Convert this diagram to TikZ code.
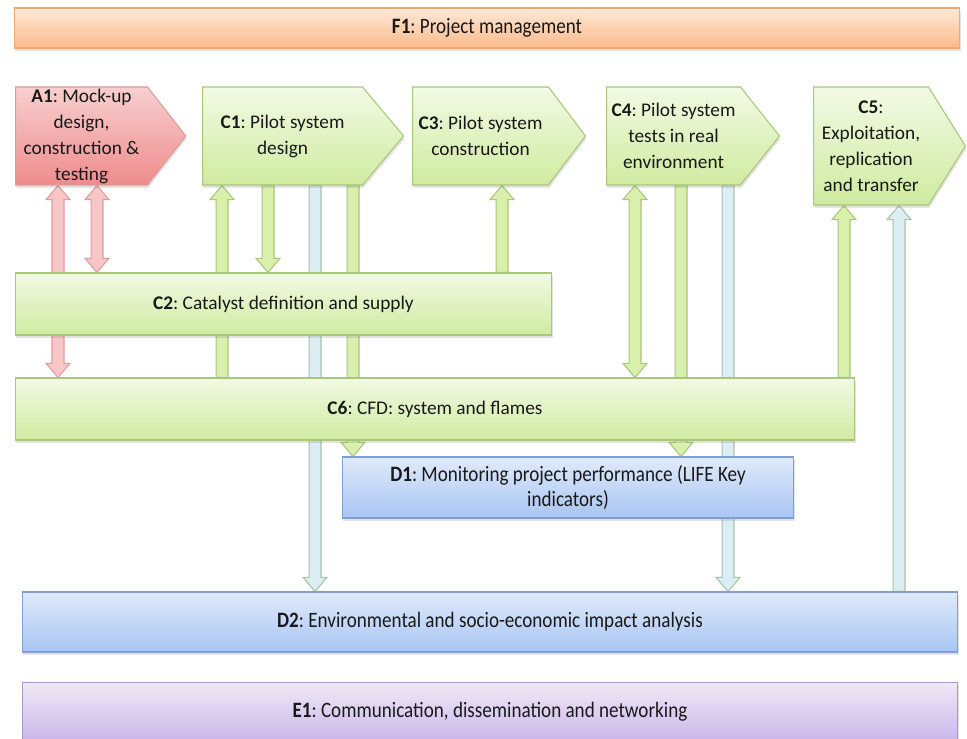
\documentclass[tikz,border=0pt]{standalone}
\usepackage{fontspec}
\setmainfont{Carlito}
\newfontfamily\narrowfont{Carlito}[FakeStretch=0.87]
\usetikzlibrary{positioning,calc,shapes.symbols,shadows,backgrounds}
\frenchspacing

\definecolor{grnTop}{HTML}{F2FAE4}
\definecolor{grnBot}{HTML}{CFEBA0}
\definecolor{grnLine}{HTML}{A8C67C}
\definecolor{redTop}{HTML}{F8CFCF}
\definecolor{redBot}{HTML}{EE8C8C}
\definecolor{redLine}{HTML}{DA9A98}
\definecolor{bluTop}{HTML}{E0EAFA}
\definecolor{bluBot}{HTML}{A8C5F3}
\definecolor{bluLine}{HTML}{7F9FCF}
\definecolor{vioTop}{HTML}{F0E9F7}
\definecolor{vioBot}{HTML}{C9B6EA}
\definecolor{vioLine}{HTML}{A996C9}
\definecolor{orgTop}{HTML}{FEE9D7}
\definecolor{orgBot}{HTML}{F9BA8B}
\definecolor{orgLine}{HTML}{EFA871}
\definecolor{grnArrFill}{HTML}{D8F0AC}
\definecolor{redArrFill}{HTML}{F8C6C6}
\definecolor{redArrLine}{HTML}{E09C9C}
\definecolor{bluArrFill}{HTML}{DCEEF3}
\definecolor{bluArrLine}{HTML}{A9C2A8}

% block arrow sizes (shaft half width, head half width, head length)
\newcommand{\arrSW}{3.4pt}
\newcommand{\arrHW}{6.8pt}
\newcommand{\arrHL}{8pt}

% block arrow, tip at #3
\newcommand{\blockarr}[3]{%
  \path[#1] let \p1=(#2), \p2=(#3), \n1={ifthenelse(\y2>\y1,1,-1)} in
    (\x1-\arrSW,\y1) -- (\x2-\arrSW,\y2-\n1*\arrHL) -- (\x2-\arrHW,\y2-\n1*\arrHL) -- (\x2,\y2)
    -- (\x2+\arrHW,\y2-\n1*\arrHL) -- (\x2+\arrSW,\y2-\n1*\arrHL) -- (\x1+\arrSW,\y1) -- cycle;}
% block arrow, tips at both ends
\newcommand{\dblarr}[3]{%
  \path[#1] let \p1=(#2), \p2=(#3), \n1={ifthenelse(\y2>\y1,1,-1)} in
    (\x1,\y1) -- (\x1-\arrHW,\y1+\n1*\arrHL) -- (\x1-\arrSW,\y1+\n1*\arrHL)
    -- (\x2-\arrSW,\y2-\n1*\arrHL) -- (\x2-\arrHW,\y2-\n1*\arrHL) -- (\x2,\y2)
    -- (\x2+\arrHW,\y2-\n1*\arrHL) -- (\x2+\arrSW,\y2-\n1*\arrHL)
    -- (\x1+\arrSW,\y1+\n1*\arrHL) -- (\x1+\arrHW,\y1+\n1*\arrHL) -- cycle;}

\tikzset{
  box/.style={draw, line width=0.6pt, inner sep=0pt, align=center, text=black!90,
    drop shadow={opacity=0.22, shadow xshift=0.5pt, shadow yshift=-1.6pt}},
  grnbox/.style={box, draw=grnLine, top color=grnTop, bottom color=grnBot},
  redbox/.style={box, draw=redLine, top color=redTop, bottom color=redBot},
  blubox/.style={box, draw=bluLine, top color=bluTop, bottom color=bluBot},
  viobox/.style={box, draw=vioLine, top color=vioTop, bottom color=vioBot},
  orgbox/.style={box, draw=orgLine, top color=orgTop, bottom color=orgBot},
  tag/.style={signal, signal to=east, signal from=nowhere, anchor=west, align=flush center,
    minimum height=1.96cm},
  wide/.style={font=\narrowfont\fontsize{12.5}{14}\selectfont},
  grnarr/.style={draw=grnLine, fill=grnArrFill, line width=0.6pt},
  redarr/.style={draw=redArrLine, fill=redArrFill, line width=0.6pt},
  bluarr/.style={draw=bluArrLine, fill=bluArrFill, line width=0.6pt},
}

\begin{document}
\begin{tikzpicture}[x=0.02cm, y=-0.02cm, font=\fontsize{11}{14.8}\selectfont]
\useasboundingbox (0,0) rectangle (967,739);

% Project management
\node[orgbox, wide, minimum width=18.92cm, minimum height=0.8cm] (f1) at (487,28)
  {\textbf{F1}: Project management};

% Action boxes, top row
\node[redbox, tag, text width=2.64cm, signal pointer angle=104] (a1) at (15,136)
  {\textbf{A1}: Mock-up\\design,\\construction \&\\testing};
\node[grnbox, tag, text width=3.2cm, signal pointer angle=100] (c1) at (202,136)
  {\textbf{C1}: Pilot system\\design};
\node[grnbox, tag, text width=2.72cm, signal pointer angle=106] (c3) at (412,136)
  {\textbf{C3}: Pilot system\\construction};
\node[grnbox, tag, text width=2.68cm, signal pointer angle=103] (c4) at (606,136)
  {\textbf{C4}: Pilot system\\tests in real\\environment};
\node[grnbox, tag, text width=2.3cm, minimum height=2.36cm, signal pointer angle=116] (c5) at (813,146)
  {\textbf{C5}:\\Exploitation,\\replication\\and transfer};

% Wide boxes
\node[grnbox, minimum width=10.74cm, minimum height=1.24cm] (c2) at (283.5,304)
  {\textbf{C2}: Catalyst definition and supply};
\node[grnbox, minimum width=16.8cm, minimum height=1.24cm] (c6) at (435,409)
  {\textbf{C6}: CFD: system and flames};
\node[blubox, wide, minimum width=9.04cm, minimum height=1.22cm] (d1) at (568,487.5)
  {\textbf{D1}: Monitoring project performance (LIFE Key\\indicators)};
\node[blubox, wide, minimum width=18.72cm, minimum height=1.2cm] (d2) at (490,622)
  {\textbf{D2}: Environmental and socio-economic impact analysis};
\node[viobox, wide, minimum width=18.72cm, minimum height=1.18cm] (e1) at (490,712)
  {\textbf{E1}: Communication, dissemination and networking};

% Arrow columns
\coordinate (colA) at (58,0);
\coordinate (colB) at (97,0);
\coordinate (colC) at (222,0);
\coordinate (colD) at (268,0);
\coordinate (colE) at (315,0);
\coordinate (colF) at (353,0);
\coordinate (colG) at (502,0);
\coordinate (colH) at (635,0);
\coordinate (colI) at (681,0);
\coordinate (colJ) at (728,0);
\coordinate (colK) at (844,0);
\coordinate (colL) at (899,0);

\begin{scope}[on background layer]
\fill[white] (0,0) rectangle (967,739);
% Red arrows from A1
\dblarr{redarr}{a1.south -| colA}{c6.north -| colA}
\dblarr{redarr}{a1.south -| colB}{c2.north -| colB}
% Arrows of C1
\blockarr{grnarr}{c6.north -| colC}{c1.south -| colC}
\blockarr{grnarr}{c1.south -| colD}{c2.north -| colD}
\blockarr{bluarr}{c1.south -| colE}{d2.north -| colE}
\blockarr{grnarr}{c1.south -| colF}{d1.north -| colF}
% Arrow of C3
\blockarr{grnarr}{c2.north -| colG}{c3.south -| colG}
% Arrows of C4
\dblarr{grnarr}{c4.south -| colH}{c6.north -| colH}
\blockarr{grnarr}{c4.south -| colI}{d1.north -| colI}
\blockarr{bluarr}{c4.south -| colJ}{d2.north -| colJ}
% Arrows of C5
\blockarr{grnarr}{c6.north -| colK}{c5.south -| colK}
\blockarr{bluarr}{d2.north -| colL}{c5.south -| colL}
\end{scope}
\end{tikzpicture}
\end{document}
